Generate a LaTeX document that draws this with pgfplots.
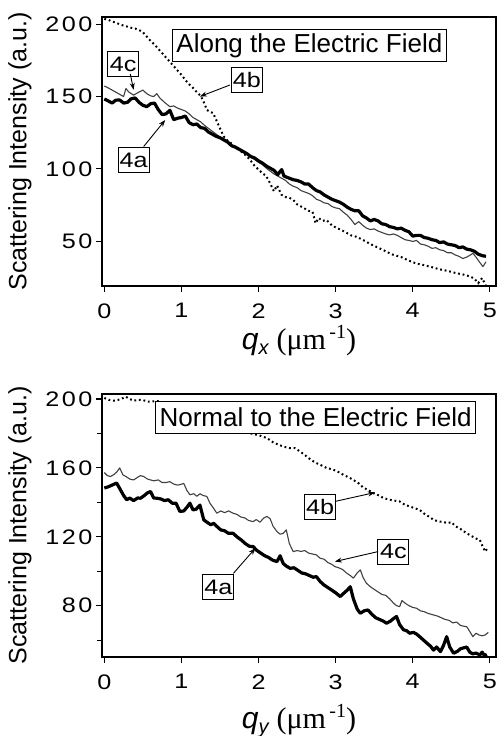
\documentclass[border=0pt]{standalone}
\usepackage{fontspec}
\setmainfont{Liberation Sans}
\newfontfamily\serif{Liberation Serif}
\newfontfamily\stretched[FakeStretch=1.2,LetterSpace=12]{Liberation Sans}
\newfontfamily\wide[FakeStretch=1.2]{Liberation Sans}
\usepackage{pgfplots}
\pgfplotsset{compat=1.18}
\usetikzlibrary{arrows.meta}

\newcommand\tickf{\stretched\fontsize{21}{21}\selectfont}
\newcommand\boxf{\wide\fontsize{21}{21}\selectfont}
\newcommand\titlef{\fontsize{26}{26}\selectfont}
\newcommand\labf{\fontsize{25}{25}\selectfont}

\pgfplotsset{
  panel/.style={
    scale only axis, width=394pt,
    xmin=-0.03, xmax=5.08, xtick={0,1,2,3,4,5},
    tick align=outside, xtick pos=bottom, ytick pos=left,
    major tick length=6pt, minor tick length=5pt,
    axis line style={line width=1.3pt},
    every tick/.style={line width=1.2pt, black},
    ticklabel style={font=\tickf},
    /pgf/number format/assume math mode=true,
    xticklabel style={yshift=-8pt},
    clip mode=individual,
  },
}
\tikzset{
  c4a/.style={black, line width=3.2pt, line join=round},
  c4c/.style={black!75, line width=1.1pt, line join=round},
  c4b/.style={black, line width=2pt, dash pattern=on 1.8pt off 2.8pt},
  lab/.style={draw, line width=1pt, fill=white, font=\boxf, minimum width=31pt, minimum height=25pt, inner sep=1pt},
  ttl/.style={draw, line width=1.2pt, fill=white, font=\titlef, minimum height=32pt, inner xsep=4pt},
  arr/.style={line width=0.9pt, -{Stealth[length=7pt,width=5pt]}},
}

\begin{document}
\begin{tikzpicture}
\useasboundingbox (0,0) rectangle (501pt,736pt);

% along the field
\begin{axis}[panel, at={(102pt,450pt)}, anchor=south west, height=269pt,
    ymin=19, ymax=205, ytick={50,100,150,200}]
\addplot[c4b] coordinates {(0,203.7) (0.05,203) (0.1,202) (0.15,201) (0.2,200) (0.25,199) (0.3,198.3)
  (0.35,197.5) (0.4,197) (0.45,196) (0.5,194.5) (0.55,191.5) (0.6,188.5) (0.65,186) (0.7,183)
  (0.75,180) (0.8,177) (0.85,174) (0.9,171) (0.95,168) (1.0,165) (1.05,161.5) (1.1,158.5)
  (1.15,156) (1.2,153) (1.25,150.5) (1.3,145) (1.33,140.7) (1.37,139.5) (1.41,138.6) (1.45,134)
  (1.5,128) (1.55,122.3) (1.6,119.5) (1.65,117.5) (1.7,115) (1.75,113) (1.8,111) (1.85,108.5)
  (1.9,105.5) (1.95,102) (2.0,99.5) (2.05,97) (2.1,95) (2.15,90) (2.2,84.5) (2.24,88.5) (2.3,82)
  (2.35,80.5) (2.4,80) (2.45,78.5) (2.5,75.5) (2.55,74) (2.6,72.5) (2.65,71) (2.7,70.4) (2.74,62.4)
  (2.78,66) (2.83,64) (2.88,64.7) (2.95,61) (3.0,59.5) (3.1,57) (3.2,54) (3.27,53) (3.35,51)
  (3.45,48) (3.55,45.5) (3.65,43) (3.7,41.6) (3.75,40.5) (3.85,39) (3.95,36.5) (4.05,34.5)
  (4.14,33.5) (4.25,32) (4.35,30.5) (4.45,29.5) (4.57,27.8) (4.65,27) (4.75,25.5) (4.8,24)
  (4.85,21) (4.9,24.5) (4.95,19)};
\addplot[c4c] coordinates {(0,157.3) (0.05,156) (0.1,154.5) (0.15,153) (0.2,151.5) (0.25,150)
  (0.28,155.5) (0.32,153) (0.38,151) (0.43,152.5) (0.5,154.5) (0.55,152) (0.6,150.5) (0.64,150)
  (0.68,152) (0.72,149) (0.78,146) (0.85,143) (0.9,143.5) (0.95,142) (1.0,141) (1.05,140)
  (1.1,138) (1.15,135.5) (1.2,134) (1.25,132.5) (1.3,130) (1.35,128) (1.4,126) (1.45,124)
  (1.5,122) (1.55,120.5) (1.6,118.5) (1.65,116.5) (1.7,115) (1.75,113) (1.8,111.5) (1.85,110)
  (1.9,108) (1.95,106.5) (2.0,104.5) (2.05,103) (2.1,100.5) (2.15,98.5) (2.2,96.5) (2.25,95)
  (2.3,93.5) (2.35,92) (2.4,89.5) (2.45,88) (2.5,87) (2.55,85) (2.6,84) (2.65,83) (2.7,81.5)
  (2.75,79) (2.8,78) (2.85,76.5) (2.9,76) (2.95,74) (3.0,73) (3.05,72.5) (3.1,70) (3.15,68)
  (3.2,65) (3.25,61.5) (3.3,63.5) (3.35,61) (3.4,59) (3.45,58) (3.5,58.5) (3.55,57) (3.6,56)
  (3.65,55) (3.7,54.3) (3.75,55) (3.8,54) (3.85,52.5) (3.9,51) (3.95,50.5) (4.0,49.8) (4.05,50.5)
  (4.1,48) (4.15,47.5) (4.2,46.5) (4.25,45) (4.3,45.5) (4.35,44) (4.4,43.5) (4.45,42) (4.5,42)
  (4.55,40.5) (4.6,39.5) (4.65,38) (4.7,39) (4.75,40.5) (4.78,41.6) (4.82,39) (4.86,36)
  (4.91,32.4) (4.95,35.7)};
\addplot[c4a] coordinates {(0,148.3) (0.05,147) (0.1,145.5) (0.15,147.5) (0.2,147.6) (0.25,145.5)
  (0.3,146) (0.35,148.5) (0.4,149) (0.45,146) (0.5,144) (0.55,143) (0.6,145) (0.65,145.5)
  (0.7,141) (0.75,137.5) (0.8,138) (0.85,140.5) (0.9,134) (0.95,135) (1.0,135.5) (1.05,136.5)
  (1.1,132) (1.15,130.5) (1.2,131) (1.25,128.5) (1.3,128) (1.35,125.5) (1.4,124) (1.45,122.5)
  (1.5,121.5) (1.55,120) (1.6,118.5) (1.65,116) (1.7,115) (1.75,113.5) (1.8,112) (1.85,110.5)
  (1.9,108.5) (1.95,107.5) (2.0,105.5) (2.05,104) (2.1,102) (2.15,100.5) (2.2,99) (2.25,96)
  (2.3,99.5) (2.33,95) (2.4,93.5) (2.45,92.5) (2.5,92) (2.55,91) (2.6,89.5) (2.65,89.5) (2.7,87)
  (2.75,85) (2.8,84) (2.85,82) (2.9,80.5) (2.95,79) (3.0,78) (3.05,77) (3.1,75.5) (3.15,73.5)
  (3.2,72) (3.25,71) (3.3,71) (3.35,67.5) (3.4,66) (3.45,64) (3.5,65) (3.55,64) (3.6,62)
  (3.65,61.5) (3.7,60) (3.75,59.5) (3.8,58.5) (3.85,59) (3.9,57.5) (3.95,56.5) (4.0,53.5)
  (4.05,54) (4.1,54) (4.15,52.5) (4.2,52) (4.25,51) (4.3,50.5) (4.35,49) (4.4,49.5) (4.45,48)
  (4.5,47.5) (4.55,47) (4.6,45.5) (4.65,46) (4.7,44.5) (4.75,44) (4.8,43) (4.85,41) (4.9,40)
  (4.95,39.5)};
\node[ttl] at (axis cs:2.66,185.1) {Along the Electric Field};
\node[lab] at (axis cs:0.246,172.2) {4c};
\draw[arr] (axis cs:0.337,165.6) -- (axis cs:0.38,154.6);
\node[lab] at (axis cs:1.85,161.5) {4b};
\draw[arr] (axis cs:1.63,158) -- (axis cs:1.24,150);
\node[lab] at (axis cs:0.38,106.2) {4a};
\draw[arr] (axis cs:0.51,115.4) -- (axis cs:0.79,133.8);
\node[rotate=90, font=\labf] at ([xshift=-82pt]rel axis cs:0,0.5) {Scattering Intensity (a.u.)};
\node[anchor=base] at ([yshift=-64pt]rel axis cs:0.5,0)
  {{\fontsize{30}{30}\selectfont\itshape q}\raisebox{-5pt}{\fontsize{20}{20}\selectfont\itshape x}\hspace{8pt}{\serif\fontsize{30}{30}\selectfont (μm\raisebox{11pt}{\fontsize{20}{20}\selectfont\,-1})}};
\end{axis}

% normal to the field
\begin{axis}[panel, at={(102pt,79pt)}, anchor=south west, height=263pt,
    ymin=50.2, ymax=202.9, ytick={80,120,160,200}, minor ytick={60,100,140,180}]
\addplot[c4b] coordinates {(0,200.6) (0.06,199.5) (0.12,199) (0.18,199.5) (0.24,200.5) (0.28,201.3)
  (0.33,200) (0.38,199) (0.44,199.5) (0.5,199.4) (0.56,198.5) (0.62,198.5) (0.68,199) (0.74,198)
  (0.8,197.8) (0.86,197.6) (0.9,198.3) (1.0,195) (1.2,190) (1.4,186) (1.6,183) (1.8,181)
  (2.0,179) (2.11,177.3) (2.2,174.5) (2.32,172.4) (2.4,171.5) (2.47,171.5) (2.54,169.5)
  (2.6,167.5) (2.67,165) (2.74,163) (2.8,161.8) (2.88,160) (2.97,159) (3.04,157.5) (3.1,156)
  (3.17,154.5) (3.23,153) (3.3,151) (3.36,148.5) (3.43,147) (3.49,145.3) (3.56,144) (3.62,142.5)
  (3.7,141.5) (3.76,141) (3.83,140.5) (3.9,138.5) (3.97,137.5) (4.03,136.5) (4.09,135.6)
  (4.16,133) (4.22,131.5) (4.27,129.8) (4.33,129) (4.4,128.5) (4.46,128) (4.5,128.5) (4.56,126)
  (4.62,124.5) (4.7,122) (4.76,120.5) (4.82,119) (4.87,118.2) (4.91,114) (4.94,111.4)
  (4.97,113.5)};
\addplot[c4c] coordinates {(0,157.3) (0.04,155.5) (0.08,155) (0.12,156) (0.16,157.5) (0.2,160)
  (0.24,156) (0.28,155) (0.33,153.5) (0.38,153) (0.43,154.5) (0.47,155.5) (0.51,155) (0.56,153.5)
  (0.6,153) (0.64,152.5) (0.7,153) (0.75,151.5) (0.8,151.5) (0.85,152) (0.9,150.6) (0.95,150)
  (1.0,150.5) (1.03,151) (1.07,147) (1.11,144.4) (1.16,145) (1.2,143.5) (1.24,145) (1.28,144)
  (1.33,143.4) (1.37,139.5) (1.41,137) (1.46,133.7) (1.51,135) (1.56,134) (1.61,135) (1.67,133.7)
  (1.72,133) (1.77,131.5) (1.82,131) (1.87,129.5) (1.93,128.8) (1.97,130) (2.02,128.5) (2.07,131)
  (2.11,131.8) (2.15,130.5) (2.19,126) (2.24,123) (2.28,121.5) (2.32,122) (2.36,124) (2.4,116)
  (2.45,111.4) (2.5,112) (2.55,111.5) (2.6,112) (2.65,110.5) (2.7,110) (2.75,109.5) (2.8,107.5)
  (2.85,107) (2.9,105) (2.95,104) (2.99,102.7) (3.04,102) (3.09,101) (3.14,99) (3.19,97.5)
  (3.23,96) (3.28,99) (3.32,100.8) (3.36,96) (3.4,93) (3.45,91) (3.5,89.5) (3.55,88) (3.6,86.5)
  (3.65,86) (3.7,84) (3.75,81.5) (3.79,80) (3.83,79.4) (3.86,83) (3.9,81.5) (3.95,80) (4.0,79)
  (4.05,78.5) (4.1,77) (4.15,76.5) (4.2,75.5) (4.27,74.6) (4.32,74) (4.37,73) (4.42,72)
  (4.47,71.5) (4.52,70) (4.57,70.5) (4.62,68.5) (4.67,68) (4.7,67.8) (4.74,65) (4.78,62) (4.82,64)
  (4.86,63) (4.9,62.5) (4.94,63) (4.98,64.5)};
\addplot[c4a] coordinates {(0,148.3) (0.05,149) (0.1,150) (0.16,151.2) (0.2,148) (0.25,144)
  (0.29,141.5) (0.33,142.5) (0.38,141) (0.43,142.5) (0.47,142.4) (0.52,144) (0.56,145.5)
  (0.6,146.3) (0.64,142.5) (0.68,142.4) (0.73,142) (0.78,141) (0.83,141.5) (0.88,139.5)
  (0.93,139.5) (0.98,134.7) (1.03,135) (1.07,137) (1.11,139.5) (1.15,135.6) (1.19,136)
  (1.24,138.4) (1.29,129.8) (1.33,128.5) (1.38,127) (1.42,127.8) (1.46,126) (1.51,124)
  (1.56,123.5) (1.61,122) (1.67,122) (1.72,120) (1.78,118) (1.83,116) (1.88,114.5) (1.93,114.3)
  (1.98,112) (2.03,110.5) (2.08,109) (2.13,108) (2.18,106.5) (2.24,105.6) (2.28,109) (2.32,104.5)
  (2.36,103) (2.41,101.7) (2.46,102) (2.51,100.5) (2.56,99) (2.61,98.5) (2.66,97.5) (2.71,96.5)
  (2.75,96.9) (2.8,94) (2.85,92) (2.9,90.5) (2.95,89) (3.0,87.5) (3.06,85.3) (3.1,87) (3.15,89)
  (3.19,91) (3.23,84) (3.28,78) (3.32,75.6) (3.37,77) (3.42,77.5) (3.47,75) (3.52,73) (3.57,72)
  (3.62,71) (3.66,69.8) (3.71,71) (3.75,72.5) (3.79,73.7) (3.83,69) (3.88,66) (3.92,65.5)
  (3.96,64) (4.01,64.5) (4.05,63.5) (4.09,62) (4.14,60) (4.19,58) (4.23,56.5) (4.27,54.2)
  (4.31,56) (4.36,53.3) (4.4,57) (4.44,62) (4.48,56) (4.53,52.4) (4.58,53.5) (4.62,55) (4.66,55.5)
  (4.7,56) (4.74,53) (4.78,52) (4.82,52.5) (4.87,51.4) (4.9,53) (4.93,51) (4.96,51.8)};
\node[ttl] at (axis cs:2.74,189.4) {Normal to the Electric Field};
\node[lab] at (axis cs:2.80,137.1) {4b};
\draw[arr] (axis cs:2.99,140.5) -- (axis cs:3.51,145.7);
\node[lab] at (axis cs:3.75,111.4) {4c};
\draw[arr] (axis cs:3.55,111.4) -- (axis cs:2.99,105.6);
\node[lab] at (axis cs:1.48,90.6) {4a};
\draw[arr] (axis cs:1.675,98.8) -- (axis cs:1.96,113.4);
\node[rotate=90, font=\labf] at ([xshift=-82pt]rel axis cs:0,0.5) {Scattering Intensity (a.u.)};
\node[anchor=base] at ([yshift=-71pt]rel axis cs:0.5,0)
  {{\fontsize{30}{30}\selectfont\itshape q}\raisebox{-5pt}{\fontsize{20}{20}\selectfont\itshape y}\hspace{8pt}{\serif\fontsize{30}{30}\selectfont (μm\raisebox{11pt}{\fontsize{20}{20}\selectfont\,-1})}};
\end{axis}
\end{tikzpicture}
\end{document}
